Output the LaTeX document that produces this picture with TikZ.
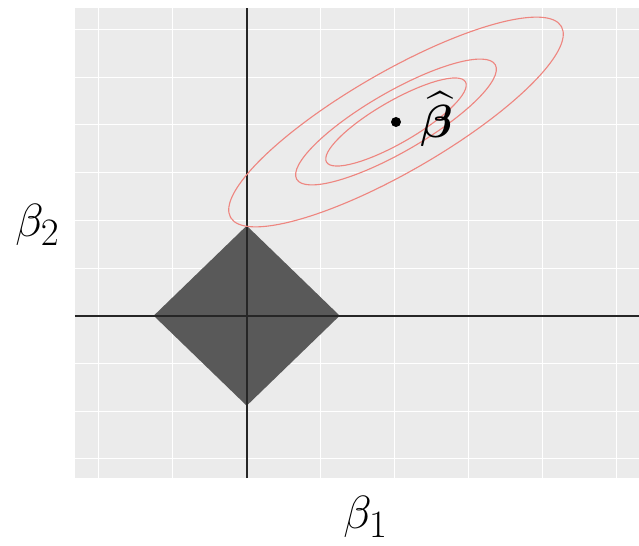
\documentclass[tikz,border=0pt]{standalone}
\usepackage{amsmath}
\usepackage{amssymb}
\usepackage{bm}
\usepackage{graphicx}
\usepackage{tikz}
\usepackage{xcolor}
\definecolor{Panel_Gray}{HTML}{EBEBEB}
\definecolor{Ball_Gray}{HTML}{595959}
\definecolor{Contour_Red}{HTML}{EE8680}
\newcommand{\bigsym}[1]{\scalebox{1.33}{#1}}

\begin{document}
\begin{tikzpicture}[x=0.025cm, y=0.025cm,
    gridline/.style={white, line width=0.7pt},
    axisline/.style={black!85, line width=1.2pt},
    contour/.style={Contour_Red, line width=0.8pt},
    bigmath/.style={font=\Huge, inner sep=0pt}]

    % Origin of the coordinates is where the two axes cross
    \useasboundingbox (-246.7,-230.3) rectangle (392.3,315.7);

    % === Panel with grid ===
    \fill[Panel_Gray] (-171.7,-162.3) rectangle (392.3,307.7);
    \foreach \gx in {-148,-74,...,370}
        \draw[gridline] (\gx,-162.3) -- (\gx,307.7);
    \foreach \k in {-3,...,6}
        \draw[gridline] (-171.7,47.7*\k) -- (392.3,47.7*\k);

    % === Constraint region |b1| + |b2| <= t ===
    \fill[Ball_Gray] (0,90) -- (93,0) -- (0,-90) -- (-93,0) -- cycle;

    % === Axes ===
    \draw[axisline] (-171.7,0) -- (392.3,0);
    \draw[axisline] (0,-162.3) -- (0,307.7);

    % === Contours of the loss around the estimate ===
    \coordinate (bhat) at (149.3,193.7);
    \begin{scope}[shift={(bhat)}, rotate=30]
        \foreach \s in {1,0.6,0.42}
            \draw[contour] (0,0) ellipse ({191*\s} and {50*\s});
    \end{scope}
    \fill (bhat) circle (5);
    \node[bigmath, anchor=base west] (bhatlabel) at (173.3,177.7)
        {\bigsym{$\widehat{\bm{\beta}}$}};

    % === Axis labels ===
    \node[bigmath, anchor=base west] (betaone) at (96.3,-213) {\bigsym{$\beta_1$}};
    \node[bigmath, anchor=base west] (betatwo) at (-231.7,78.7) {\bigsym{$\beta_2$}};

\end{tikzpicture}
\end{document}
